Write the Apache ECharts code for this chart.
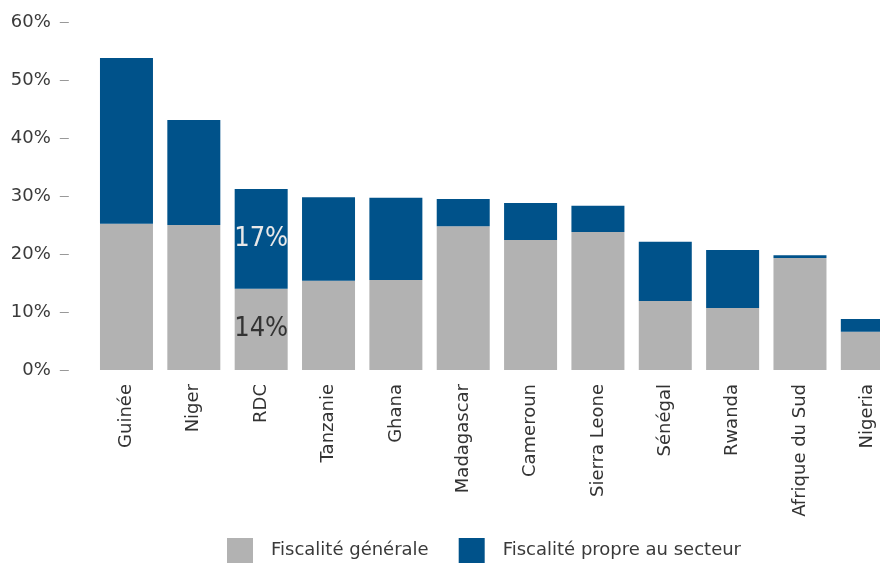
<!DOCTYPE html>
<html>
<head>
<meta charset="utf-8">
<script src="https://cdn.jsdelivr.net/npm/echarts@6/dist/echarts.min.js"></script>
<style>html,body{margin:0;padding:0;background:#fff}#c{width:880px;height:563px}</style>
</head>
<body>
<div id="c"></div>
<script>
const categories = ['Guinée','Niger','RDC','Tanzanie','Ghana','Madagascar','Cameroun','Sierra Leone','Sénégal','Rwanda','Afrique du Sud','Nigeria'];
const generale = [25.2, 25.0, 14.0, 15.4, 15.5, 24.8, 22.4, 23.8, 11.9, 10.7, 19.3, 6.6];
const secteur = [28.6, 18.1, 17.2, 14.4, 14.2, 4.7, 6.4, 4.5, 10.2, 10.0, 0.5, 2.2];
const labelled = ['RDC'];
const yTicks = [0, 10, 20, 30, 40, 50, 60];

const FONT = 'DejaVu Sans';
const labelFont = "'DejaVu Sans Condensed', 'Liberation Sans Narrow', 'Roboto', sans-serif";

function withLabels(arr, color) {
  return arr.map((v, i) => labelled.includes(categories[i]) ? {
    value: v,
    label: { show: true, position: 'inside', formatter: p => Math.round(p.value) + '%', color: color, fontFamily: labelFont, fontSize: 27, fontWeight: 300 }
  } : v);
}

const chart = echarts.init(document.getElementById('c'), null, { renderer: 'canvas' });
chart.setOption({
  animation: false,
  grid: { left: 92.8, right: -21, top: 22, bottom: 193, containLabel: false, outerBoundsMode: 'none' },
  legend: {
    left: 227, top: 538, padding: 0,
    itemWidth: 26, itemHeight: 25, itemGap: 30,
    icon: 'rect',
    textStyle: { fontFamily: FONT, fontSize: 18, color: '#3a3a3a', padding: [0, 0, 0, 13] },
    data: ['Fiscalité générale', 'Fiscalité propre au secteur']
  },
  xAxis: {
    type: 'category', data: categories,
    axisLine: { show: false }, axisTick: { show: false },
    axisLabel: { rotate: 90, margin: 14, fontFamily: FONT, fontSize: 18, color: '#333', interval: 0 }
  },
  yAxis: {
    type: 'value', min: yTicks[0], max: yTicks[yTicks.length - 1], interval: 10,
    offset: 24,
    splitLine: { show: false },
    axisLine: { show: false },
    axisTick: { show: true, length: 9, lineStyle: { color: '#999', width: 1 } },
    axisLabel: { margin: 18, fontFamily: FONT, fontSize: 18, color: '#3a3a3a', formatter: '{value}%' }
  },
  series: [
    { name: 'Fiscalité générale', type: 'bar', stack: 't', barWidth: 53, itemStyle: { color: '#b2b2b2' }, data: withLabels(generale, '#333') },
    { name: 'Fiscalité propre au secteur', type: 'bar', stack: 't', barWidth: 53, itemStyle: { color: '#00528a' }, data: withLabels(secteur, '#e8e8e8') }
  ]
});
</script>
</body>
</html>
